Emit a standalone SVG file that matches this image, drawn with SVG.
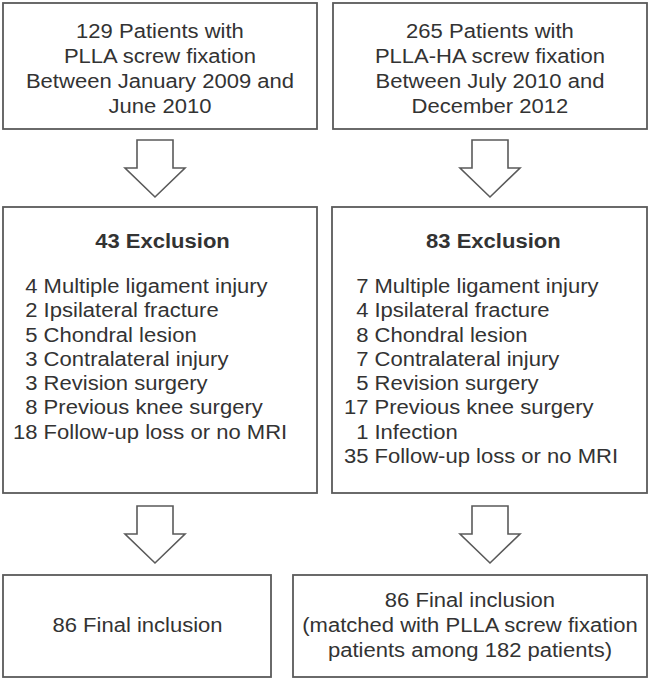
<svg xmlns="http://www.w3.org/2000/svg" width="650" height="679" viewBox="0 0 650 679">
<style>
.box{fill:#fff;stroke:#5a5a5a;stroke-width:1.8}
.arr{fill:#fff;stroke:#5a5a5a;stroke-width:1.6;stroke-linejoin:miter}
text{font-family:"Liberation Sans",Arial,sans-serif;font-size:19.5px;fill:#333}
.c{text-anchor:middle}
.e{text-anchor:end}
.b{font-weight:bold}
</style>
<rect width="650" height="679" fill="#fff"/>
<g id="connectors">
<path class="arr" d="M137,140 H173 V168 H185 L155,197 L125,168 H137 Z"/>
<path class="arr" d="M472,140 H508 V168 H520 L490,197 L460,168 H472 Z"/>
<path class="arr" d="M137,506 H173 V534 H185 L155,563 L125,534 H137 Z"/>
<path class="arr" d="M472,506 H508 V534 H520 L490,563 L460,534 H472 Z"/>
</g>
<g id="n1">
<rect class="box" x="3" y="3" width="314" height="126"/>
<g transform="scale(1.13,1)">
<text class="c" x="141.6" y="38.5">129 Patients with</text>
<text class="c" x="141.6" y="63.2">PLLA screw fixation</text>
<text class="c" x="141.6" y="87.9">Between January 2009 and</text>
<text class="c" x="141.6" y="112.6">June 2010</text>
</g>
</g>
<g id="n2">
<rect class="box" x="333" y="3" width="314" height="126"/>
<g transform="scale(1.13,1)">
<text class="c" x="433.6" y="38.5">265 Patients with</text>
<text class="c" x="433.6" y="63.2">PLLA-HA screw fixation</text>
<text class="c" x="433.6" y="87.9">Between July 2010 and</text>
<text class="c" x="433.6" y="112.6">December 2012</text>
</g>
</g>
<g id="n3">
<rect class="box" x="3" y="207" width="314" height="286"/>
<g transform="scale(1.13,1)">
<text class="c b" x="143.8" y="248">43 Exclusion</text>
<text class="e" x="33.2" y="293">4</text><text x="38.6" y="293">Multiple ligament injury</text>
<text class="e" x="33.2" y="317.3">2</text><text x="38.6" y="317.3">Ipsilateral fracture</text>
<text class="e" x="33.2" y="341.6">5</text><text x="38.6" y="341.6">Chondral lesion</text>
<text class="e" x="33.2" y="365.9">3</text><text x="38.6" y="365.9">Contralateral injury</text>
<text class="e" x="33.2" y="390.2">3</text><text x="38.6" y="390.2">Revision surgery</text>
<text class="e" x="33.2" y="414.5">8</text><text x="38.6" y="414.5">Previous knee surgery</text>
<text class="e" x="33.2" y="438.8">18</text><text x="38.6" y="438.8">Follow-up loss or no MRI</text>
</g>
</g>
<g id="n4">
<rect class="box" x="332" y="207" width="315" height="286"/>
<g transform="scale(1.13,1)">
<text class="c b" x="436.6" y="248">83 Exclusion</text>
<text class="e" x="326.1" y="293">7</text><text x="331.4" y="293">Multiple ligament injury</text>
<text class="e" x="326.1" y="317.3">4</text><text x="331.4" y="317.3">Ipsilateral fracture</text>
<text class="e" x="326.1" y="341.6">8</text><text x="331.4" y="341.6">Chondral lesion</text>
<text class="e" x="326.1" y="365.9">7</text><text x="331.4" y="365.9">Contralateral injury</text>
<text class="e" x="326.1" y="390.2">5</text><text x="331.4" y="390.2">Revision surgery</text>
<text class="e" x="326.1" y="414.5">17</text><text x="331.4" y="414.5">Previous knee surgery</text>
<text class="e" x="326.1" y="438.8">1</text><text x="331.4" y="438.8">Infection</text>
<text class="e" x="326.1" y="463.1">35</text><text x="331.4" y="463.1">Follow-up loss or no MRI</text>
</g>
</g>
<g id="n5">
<rect class="box" x="3" y="575" width="268" height="102"/>
<g transform="scale(1.13,1)">
<text class="c" x="121.7" y="632">86 Final inclusion</text>
</g>
</g>
<g id="n6">
<rect class="box" x="293" y="575" width="354" height="102"/>
<g transform="scale(1.13,1)">
<text class="c" x="415.9" y="607">86 Final inclusion</text>
<text class="c" x="415.9" y="632">(matched with PLLA screw fixation</text>
<text class="c" x="415.9" y="657">patients among 182 patients)</text>
</g>
</g>
</svg>
